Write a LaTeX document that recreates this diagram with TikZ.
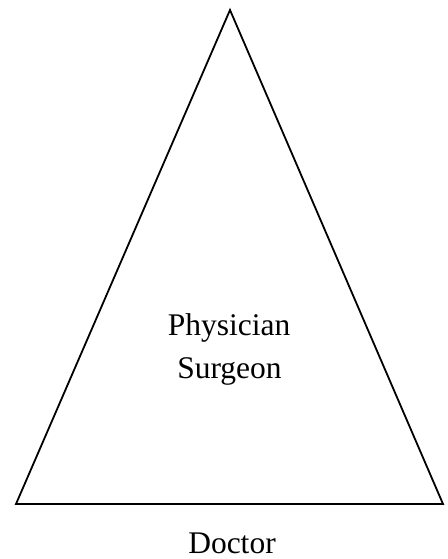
\documentclass[tikz,border=0pt]{standalone}
\usepackage{fontspec}
\setmainfont{Liberation Serif}
\usepackage{tikz}
\usetikzlibrary{positioning}
\definecolor{trigray}{RGB}{0,0,0}

\begin{document}
\begin{tikzpicture}[x=1pt, y=-1pt,
    label text/.style={font=\fontsize{31.5}{42.5}\selectfont, align=center, inner sep=0pt}]
        \useasboundingbox (0,0) rectangle (447,559);
        \coordinate (apex) at (230,10);
        \coordinate (baseL) at (16,504);
        \coordinate (baseR) at (443,504);
        \draw[draw=trigray, line width=1.8pt, line join=miter] (apex) -- (baseL) -- (baseR) -- cycle;
        \node[label text, anchor=base] (phys) at (229,335) {Physician};
        \node[label text, anchor=base] (surg) at (229.5,378) {Surgeon};
        \node[label text, anchor=base] (doc) at (232,553) {Doctor};
      \end{tikzpicture}
\end{document}
